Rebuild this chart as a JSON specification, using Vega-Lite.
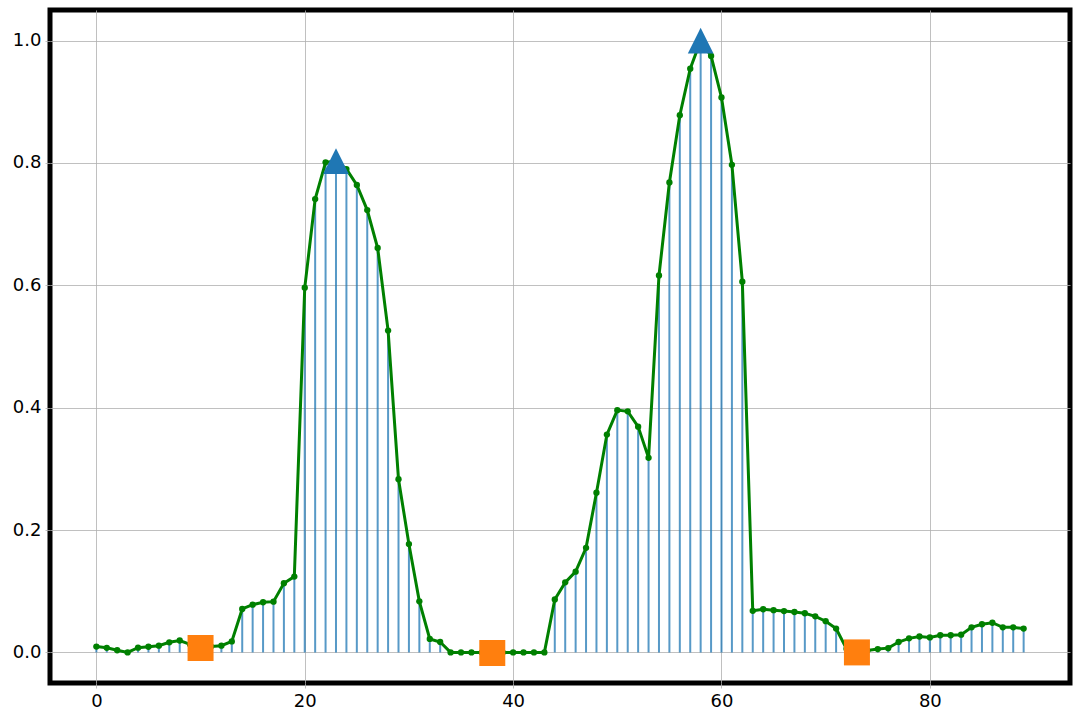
{
  "$schema": "https://vega.github.io/schema/vega-lite/v6.json",
  "width": 1020,
  "height": 673,
  "autosize": "none",
  "padding": {"left": 50, "top": 10, "right": 10, "bottom": 37},
  "background": "white",
  "config": {
    "view": {"stroke": "black", "strokeWidth": 5},
    "axis": {
      "grid": true,
      "gridColor": "#b0b0b0",
      "gridWidth": 0.8,
      "domain": false,
      "tickColor": "#b0b0b0",
      "tickSize": 5,
      "tickWidth": 0.8,
      "labelFont": "DejaVu Sans",
      "labelFontSize": 18,
      "labelColor": "black",
      "labelPadding": 4,
      "title": null
    }
  },
  "data": {
    "values": [
      {"x": 0, "y": 0.0095, "extremum": "none"},
      {"x": 1, "y": 0.0075, "extremum": "none"},
      {"x": 2, "y": 0.0035, "extremum": "none"},
      {"x": 3, "y": 0.0, "extremum": "none"},
      {"x": 4, "y": 0.0078, "extremum": "none"},
      {"x": 5, "y": 0.0093, "extremum": "none"},
      {"x": 6, "y": 0.011, "extremum": "none"},
      {"x": 7, "y": 0.0165, "extremum": "none"},
      {"x": 8, "y": 0.0195, "extremum": "none"},
      {"x": 9, "y": 0.013, "extremum": "none"},
      {"x": 10, "y": 0.0072, "extremum": "min"},
      {"x": 11, "y": 0.0095, "extremum": "none"},
      {"x": 12, "y": 0.011, "extremum": "none"},
      {"x": 13, "y": 0.018, "extremum": "none"},
      {"x": 14, "y": 0.071, "extremum": "none"},
      {"x": 15, "y": 0.078, "extremum": "none"},
      {"x": 16, "y": 0.082, "extremum": "none"},
      {"x": 17, "y": 0.083, "extremum": "none"},
      {"x": 18, "y": 0.113, "extremum": "none"},
      {"x": 19, "y": 0.124, "extremum": "none"},
      {"x": 20, "y": 0.596, "extremum": "none"},
      {"x": 21, "y": 0.741, "extremum": "none"},
      {"x": 22, "y": 0.801, "extremum": "none"},
      {"x": 23, "y": 0.803, "extremum": "peak"},
      {"x": 24, "y": 0.79, "extremum": "none"},
      {"x": 25, "y": 0.764, "extremum": "none"},
      {"x": 26, "y": 0.723, "extremum": "none"},
      {"x": 27, "y": 0.661, "extremum": "none"},
      {"x": 28, "y": 0.526, "extremum": "none"},
      {"x": 29, "y": 0.283, "extremum": "none"},
      {"x": 30, "y": 0.177, "extremum": "none"},
      {"x": 31, "y": 0.0835, "extremum": "none"},
      {"x": 32, "y": 0.022, "extremum": "none"},
      {"x": 33, "y": 0.017, "extremum": "none"},
      {"x": 34, "y": 0.0, "extremum": "none"},
      {"x": 35, "y": 0.0, "extremum": "none"},
      {"x": 36, "y": 0.0, "extremum": "none"},
      {"x": 37, "y": 0.0, "extremum": "none"},
      {"x": 38, "y": -0.001, "extremum": "min"},
      {"x": 39, "y": 0.0, "extremum": "none"},
      {"x": 40, "y": 0.0, "extremum": "none"},
      {"x": 41, "y": 0.0, "extremum": "none"},
      {"x": 42, "y": 0.0, "extremum": "none"},
      {"x": 43, "y": 0.0, "extremum": "none"},
      {"x": 44, "y": 0.0865, "extremum": "none"},
      {"x": 45, "y": 0.1145, "extremum": "none"},
      {"x": 46, "y": 0.132, "extremum": "none"},
      {"x": 47, "y": 0.171, "extremum": "none"},
      {"x": 48, "y": 0.261, "extremum": "none"},
      {"x": 49, "y": 0.356, "extremum": "none"},
      {"x": 50, "y": 0.396, "extremum": "none"},
      {"x": 51, "y": 0.394, "extremum": "none"},
      {"x": 52, "y": 0.369, "extremum": "none"},
      {"x": 53, "y": 0.318, "extremum": "none"},
      {"x": 54, "y": 0.616, "extremum": "none"},
      {"x": 55, "y": 0.768, "extremum": "none"},
      {"x": 56, "y": 0.878, "extremum": "none"},
      {"x": 57, "y": 0.954, "extremum": "none"},
      {"x": 58, "y": 1.0, "extremum": "peak"},
      {"x": 59, "y": 0.975, "extremum": "none"},
      {"x": 60, "y": 0.907, "extremum": "none"},
      {"x": 61, "y": 0.797, "extremum": "none"},
      {"x": 62, "y": 0.606, "extremum": "none"},
      {"x": 63, "y": 0.068, "extremum": "none"},
      {"x": 64, "y": 0.0705, "extremum": "none"},
      {"x": 65, "y": 0.069, "extremum": "none"},
      {"x": 66, "y": 0.0675, "extremum": "none"},
      {"x": 67, "y": 0.066, "extremum": "none"},
      {"x": 68, "y": 0.064, "extremum": "none"},
      {"x": 69, "y": 0.059, "extremum": "none"},
      {"x": 70, "y": 0.051, "extremum": "none"},
      {"x": 71, "y": 0.039, "extremum": "none"},
      {"x": 72, "y": 0.006, "extremum": "none"},
      {"x": 73, "y": 0.0, "extremum": "min"},
      {"x": 74, "y": 0.003, "extremum": "none"},
      {"x": 75, "y": 0.0054, "extremum": "none"},
      {"x": 76, "y": 0.007, "extremum": "none"},
      {"x": 77, "y": 0.017, "extremum": "none"},
      {"x": 78, "y": 0.023, "extremum": "none"},
      {"x": 79, "y": 0.026, "extremum": "none"},
      {"x": 80, "y": 0.0245, "extremum": "none"},
      {"x": 81, "y": 0.028, "extremum": "none"},
      {"x": 82, "y": 0.028, "extremum": "none"},
      {"x": 83, "y": 0.029, "extremum": "none"},
      {"x": 84, "y": 0.041, "extremum": "none"},
      {"x": 85, "y": 0.046, "extremum": "none"},
      {"x": 86, "y": 0.0485, "extremum": "none"},
      {"x": 87, "y": 0.041, "extremum": "none"},
      {"x": 88, "y": 0.041, "extremum": "none"},
      {"x": 89, "y": 0.039, "extremum": "none"}
    ]
  },
  "encoding": {
    "x": {
      "field": "x",
      "type": "quantitative",
      "scale": {"domain": [-4.45, 93.45], "nice": false, "zero": false},
      "axis": {"values": [0, 20, 40, 60, 80], "format": "d"}
    },
    "y": {
      "field": "y",
      "type": "quantitative",
      "scale": {"domain": [-0.05, 1.05], "nice": false, "zero": false},
      "axis": {"values": [0, 0.2, 0.4, 0.6, 0.8, 1.0], "format": ".1f", "labelPadding": 4}
    }
  },
  "layer": [
    {
      "mark": {"type": "rule", "color": "#1f77b4", "opacity": 0.75, "strokeWidth": 2},
      "encoding": {"y2": {"datum": 0}}
    },
    {
      "mark": {"type": "line", "color": "green", "strokeWidth": 3}
    },
    {
      "mark": {"type": "circle", "color": "green", "opacity": 1, "size": 40}
    },
    {
      "transform": [{"filter": "datum.extremum === 'peak'"}],
      "mark": {"type": "point", "shape": "M0,-1L1,1L-1,1Z", "filled": true, "color": "#1f77b4", "opacity": 1, "size": 660}
    },
    {
      "transform": [{"filter": "datum.extremum === 'min'"}],
      "mark": {"type": "point", "shape": "square", "filled": true, "color": "#ff7f0e", "opacity": 1, "size": 676}
    }
  ]
}
